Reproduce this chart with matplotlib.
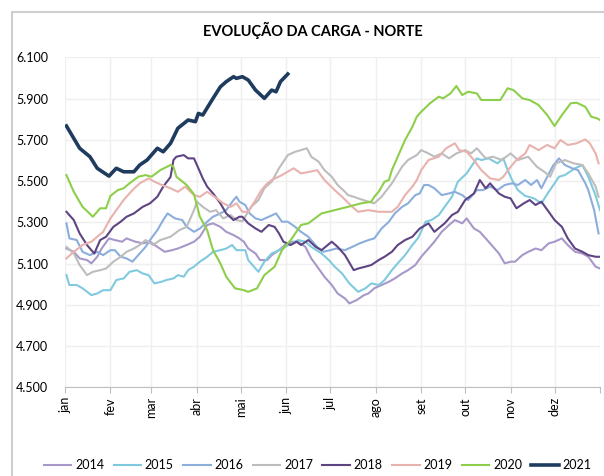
import matplotlib.pyplot as plt
from matplotlib.patches import Rectangle
from matplotlib.ticker import FuncFormatter

plt.rcParams['font.family'] = ['Lato', 'DejaVu Sans']

# dia do ano -> carga (MWmed)
d2014 = [1, 6, 10, 15, 18, 22, 25, 30, 34, 39, 42, 48, 53, 58, 63, 68, 73, 77, 83, 88, 92, 97, 101, 106, 110, 115, 119, 122, 125, 130, 133, 138, 141, 146, 150, 155, 159, 164, 168, 173, 177, 182, 186, 191, 194, 199, 204, 207, 211, 216, 221, 225, 230, 234, 239, 243, 248, 252, 257, 262, 266, 271, 274, 279, 283, 287, 291, 296, 300, 304, 307, 312, 316, 321, 325, 330, 334, 339, 343, 348, 353, 357, 362, 365]
v2014 = [5173, 5157, 5125, 5117, 5101, 5133, 5173, 5222, 5214, 5206, 5222, 5206, 5198, 5206, 5181, 5157, 5165, 5173, 5190, 5206, 5230, 5287, 5295, 5278, 5254, 5238, 5222, 5206, 5173, 5149, 5117, 5117, 5141, 5165, 5190, 5206, 5206, 5181, 5125, 5076, 5036, 4996, 4955, 4931, 4907, 4923, 4947, 4955, 4980, 4996, 5012, 5028, 5052, 5068, 5093, 5133, 5173, 5206, 5254, 5287, 5311, 5295, 5319, 5270, 5254, 5222, 5190, 5149, 5101, 5109, 5109, 5141, 5157, 5173, 5165, 5198, 5206, 5222, 5190, 5157, 5149, 5133, 5085, 5076]

d2015 = [1, 3, 8, 12, 18, 22, 26, 31, 35, 40, 44, 49, 53, 57, 61, 66, 69, 74, 77, 81, 84, 88, 92, 97, 101, 106, 110, 114, 117, 123, 125, 130, 132, 136, 141, 146, 150, 155, 159, 164, 168, 175, 180, 184, 189, 194, 200, 205, 209, 214, 218, 223, 227, 232, 237, 241, 246, 250, 255, 259, 264, 268, 274, 277, 281, 284, 289, 295, 299, 302, 305, 309, 314, 320, 325, 330, 334, 337, 341, 348, 353, 357, 362, 365]
v2015 = [5044, 4996, 4996, 4980, 4947, 4955, 4971, 4971, 5020, 5028, 5060, 5068, 5052, 5044, 5004, 5012, 5020, 5028, 5044, 5036, 5068, 5085, 5109, 5133, 5157, 5165, 5173, 5190, 5165, 5165, 5117, 5076, 5060, 5109, 5149, 5165, 5181, 5198, 5214, 5206, 5181, 5149, 5117, 5085, 5052, 5004, 4963, 4980, 5004, 4996, 5020, 5068, 5101, 5141, 5190, 5225, 5303, 5311, 5335, 5375, 5424, 5497, 5537, 5569, 5610, 5602, 5610, 5586, 5610, 5553, 5505, 5456, 5428, 5416, 5392, 5448, 5489, 5521, 5529, 5562, 5578, 5521, 5430, 5359]

d2016 = [1, 3, 8, 12, 17, 22, 26, 31, 34, 38, 42, 46, 50, 55, 58, 63, 67, 70, 75, 80, 83, 88, 92, 97, 101, 106, 110, 115, 117, 119, 123, 126, 130, 134, 139, 144, 148, 152, 157, 161, 166, 172, 176, 181, 185, 191, 196, 201, 207, 211, 216, 221, 225, 230, 234, 239, 242, 245, 248, 252, 257, 262, 266, 271, 275, 281, 285, 290, 295, 300, 305, 309, 314, 318, 322, 325, 329, 333, 337, 341, 346, 350, 355, 357, 361, 364]
v2016 = [5295, 5222, 5214, 5157, 5141, 5157, 5141, 5165, 5165, 5133, 5125, 5109, 5141, 5181, 5214, 5262, 5311, 5343, 5319, 5311, 5278, 5254, 5270, 5303, 5327, 5343, 5359, 5408, 5424, 5400, 5384, 5343, 5319, 5311, 5327, 5343, 5303, 5303, 5278, 5254, 5230, 5181, 5157, 5165, 5173, 5165, 5181, 5198, 5214, 5222, 5270, 5303, 5343, 5375, 5392, 5432, 5440, 5481, 5481, 5465, 5432, 5440, 5448, 5432, 5408, 5456, 5456, 5473, 5456, 5481, 5489, 5481, 5505, 5481, 5505, 5465, 5521, 5575, 5610, 5578, 5562, 5553, 5489, 5456, 5359, 5246]

d2017 = [1, 6, 10, 15, 19, 24, 28, 33, 38, 42, 47, 51, 55, 60, 65, 72, 78, 83, 88, 90, 94, 99, 103, 108, 113, 117, 121, 127, 132, 136, 141, 146, 152, 157, 161, 165, 168, 173, 177, 182, 186, 191, 193, 197, 200, 207, 211, 216, 223, 230, 234, 240, 243, 248, 252, 257, 262, 267, 273, 277, 281, 287, 292, 298, 304, 309, 316, 322, 327, 331, 335, 341, 347, 353, 357, 362, 364]
v2017 = [5181, 5149, 5093, 5044, 5060, 5068, 5076, 5109, 5133, 5157, 5173, 5190, 5214, 5190, 5214, 5230, 5262, 5278, 5359, 5400, 5375, 5351, 5359, 5319, 5335, 5311, 5305, 5375, 5408, 5465, 5497, 5562, 5626, 5642, 5650, 5659, 5618, 5594, 5553, 5521, 5481, 5448, 5432, 5424, 5416, 5400, 5392, 5424, 5489, 5570, 5602, 5626, 5650, 5634, 5618, 5634, 5610, 5634, 5650, 5634, 5659, 5610, 5618, 5602, 5634, 5602, 5618, 5569, 5545, 5521, 5586, 5602, 5586, 5578, 5537, 5473, 5424]

d2018 = [1, 6, 10, 15, 18, 20, 24, 28, 33, 38, 42, 47, 53, 58, 63, 67, 72, 74, 76, 81, 84, 88, 91, 94, 97, 101, 106, 110, 115, 119, 121, 125, 130, 134, 139, 143, 146, 149, 154, 158, 161, 166, 171, 175, 182, 186, 191, 197, 200, 205, 209, 214, 218, 223, 227, 232, 237, 242, 248, 252, 259, 264, 268, 273, 279, 283, 287, 290, 296, 300, 304, 308, 313, 317, 321, 325, 330, 334, 339, 343, 348, 353, 357, 362, 365]
v2018 = [5351, 5311, 5246, 5190, 5165, 5149, 5214, 5230, 5278, 5303, 5327, 5343, 5375, 5392, 5424, 5473, 5520, 5602, 5618, 5626, 5610, 5610, 5562, 5513, 5473, 5440, 5392, 5343, 5311, 5327, 5327, 5295, 5270, 5254, 5287, 5278, 5246, 5206, 5190, 5206, 5190, 5214, 5181, 5165, 5206, 5181, 5141, 5068, 5076, 5085, 5093, 5117, 5133, 5157, 5190, 5214, 5230, 5270, 5295, 5254, 5295, 5335, 5351, 5408, 5440, 5505, 5465, 5489, 5440, 5424, 5416, 5368, 5392, 5408, 5384, 5400, 5351, 5311, 5278, 5222, 5173, 5157, 5141, 5133, 5133]

d2019 = [1, 6, 12, 18, 22, 26, 31, 35, 40, 46, 51, 57, 61, 66, 72, 77, 82, 88, 92, 97, 102, 108, 113, 117, 121, 125, 130, 134, 138, 141, 148, 156, 161, 167, 172, 177, 184, 189, 196, 200, 207, 214, 223, 227, 232, 237, 240, 243, 248, 255, 260, 266, 269, 274, 279, 284, 290, 296, 299, 304, 308, 314, 317, 323, 329, 334, 338, 343, 349, 355, 358, 362, 364]
v2019 = [5125, 5157, 5190, 5206, 5230, 5254, 5319, 5359, 5408, 5456, 5489, 5513, 5497, 5481, 5465, 5448, 5473, 5432, 5424, 5448, 5424, 5392, 5375, 5392, 5351, 5351, 5408, 5456, 5489, 5505, 5529, 5562, 5537, 5545, 5553, 5505, 5456, 5424, 5375, 5351, 5359, 5351, 5351, 5375, 5432, 5473, 5505, 5553, 5602, 5618, 5659, 5683, 5650, 5642, 5602, 5553, 5513, 5505, 5521, 5569, 5602, 5634, 5675, 5650, 5675, 5659, 5699, 5675, 5683, 5702, 5683, 5634, 5586]

d2020 = [1, 6, 12, 19, 24, 28, 31, 36, 40, 44, 50, 55, 59, 65, 72, 74, 76, 83, 88, 92, 97, 101, 106, 110, 116, 122, 125, 131, 136, 143, 148, 154, 161, 166, 175, 184, 193, 202, 209, 211, 214, 218, 221, 223, 227, 232, 237, 240, 243, 249, 255, 258, 263, 267, 271, 275, 281, 284, 291, 297, 302, 306, 312, 317, 323, 329, 334, 339, 345, 349, 355, 359, 363, 365]
v2020 = [5529, 5448, 5375, 5327, 5368, 5368, 5428, 5456, 5465, 5489, 5521, 5529, 5521, 5553, 5578, 5569, 5521, 5481, 5436, 5327, 5262, 5165, 5101, 5036, 4980, 4971, 4963, 4980, 5044, 5085, 5165, 5214, 5287, 5295, 5343, 5359, 5375, 5392, 5400, 5424, 5448, 5497, 5505, 5553, 5618, 5699, 5763, 5812, 5836, 5877, 5909, 5901, 5925, 5961, 5917, 5933, 5925, 5893, 5893, 5893, 5950, 5941, 5901, 5893, 5869, 5820, 5767, 5820, 5877, 5880, 5860, 5812, 5804, 5796]

d2021 = [1, 6, 10, 17, 22, 30, 35, 40, 47, 51, 56, 63, 67, 72, 77, 84, 89, 91, 94, 101, 106, 110, 115, 117, 121, 125, 130, 136, 141, 144, 147, 152]
v2021 = [5767, 5707, 5659, 5618, 5562, 5524, 5562, 5545, 5545, 5578, 5602, 5659, 5642, 5683, 5756, 5796, 5788, 5828, 5820, 5901, 5957, 5982, 6006, 5998, 6006, 5990, 5941, 5901, 5941, 5933, 5982, 6019]

anos = ['2014', '2015', '2016', '2017', '2018', '2019', '2020', '2021']
dias = [d2014, d2015, d2016, d2017, d2018, d2019, d2020, d2021]
cargas = [v2014, v2015, v2016, v2017, v2018, v2019, v2020, v2021]
cores = ['#A898CA', '#80CADF', '#8BAEDC', '#BDBDBD', '#5E4482', '#E8B2AF', '#8DCF4A', '#1F3B5E']

meses = ['jan', 'fev', 'mar', 'abr', 'mai', 'jun', 'jul', 'ago', 'set', 'out', 'nov', 'dez']
inicio_mes = [0, 31, 59, 90, 120, 151, 181, 212, 243, 273, 304, 334, 365]

fig = plt.figure(figsize=(6.04, 4.76), dpi=100)
ax = fig.add_axes([0.1076, 0.1863, 0.8858, 0.6933])

for ano, d, v, c in zip(anos, dias, cargas, cores):
    lw = 2.6 if ano == '2021' else 1.5
    ax.plot(d, v, color=c, lw=lw, label=ano, solid_joinstyle='round')

ax.set_xlim(0, 365)
ax.set_ylim(4500, 6100)
ax.set_yticks(range(4500, 6101, 200))
ax.yaxis.set_major_formatter(FuncFormatter(lambda v, p: f'{v:,.0f}'.replace(',', '.')))
ax.set_xticks(inicio_mes)
ax.set_xticklabels(meses + [''], rotation=90, fontsize=9)
ax.tick_params(axis='y', length=0, pad=12, labelsize=9)
ax.tick_params(axis='x', length=4, color='#BFBFBF', pad=3)
ax.grid(True, color='#EFEFEF', lw=1)
ax.set_axisbelow(True)
for s in ['top', 'right', 'left']:
    ax.spines[s].set_visible(False)
ax.spines['bottom'].set_color('#BFBFBF')

fig.text(0.518, 0.937, 'EVOLUÇÃO DA CARGA - NORTE', ha='center', va='center',
         fontsize=10.5, fontweight='bold')
fig.legend(loc='center', bbox_to_anchor=(0.526, 0.023), ncol=8, frameon=False,
           fontsize=9, handlelength=2.2, handletextpad=0.3, columnspacing=0.75)

# moldura do gráfico (cortada à direita e embaixo)
fig.add_artist(Rectangle((12 / 604, -0.1), 1.2, 0.1 + 1 - 12 / 476, transform=fig.transFigure,
                         fill=False, edgecolor='#CFCFCF', lw=1.5))

fig.savefig('out.png', dpi=100)
